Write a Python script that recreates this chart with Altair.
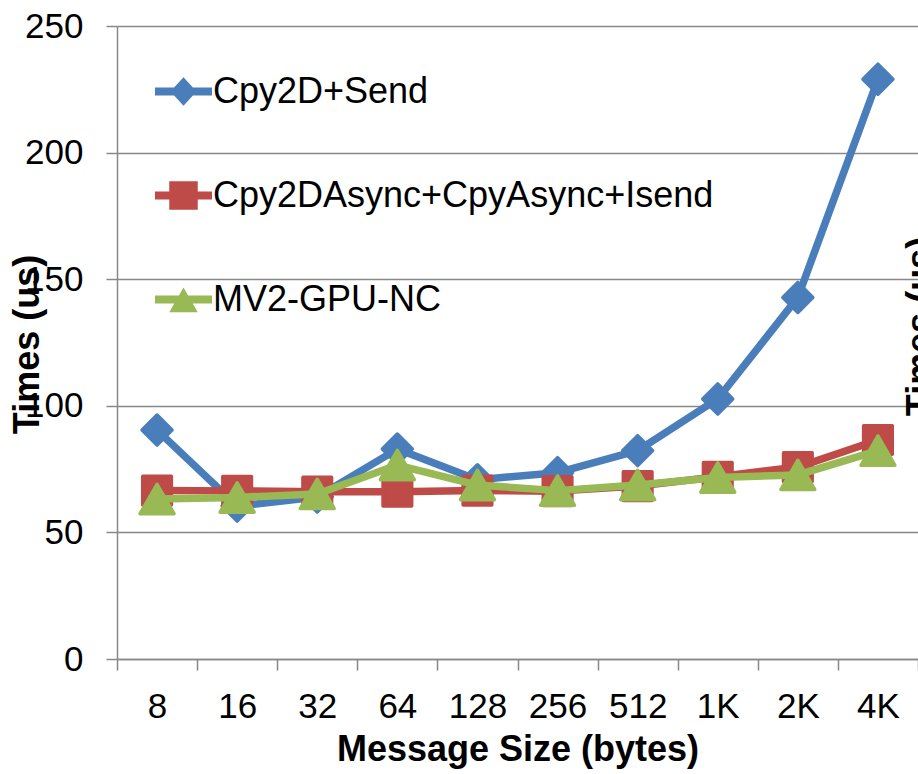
import altair as alt
import pandas as pd

# Message sizes on the x axis
sizes = ["8", "16", "32", "64", "128", "256", "512", "1K", "2K", "4K"]

# Latency (us) of each strategy per message size
series_names = ["Cpy2D+Send", "Cpy2DAsync+CpyAsync+Isend", "MV2-GPU-NC"]
cpy2d_send = [90.4, 60.4, 64.0, 82.9, 70.8, 73.6, 82.3, 102.7, 142.8, 229.0]
cpy2d_async_isend = [66.5, 66.4, 66.1, 66.1, 66.5, 66.3, 68.3, 72.0, 75.8, 86.5]
mv2_gpu_nc = [63.2, 63.8, 65.2, 76.6, 68.7, 66.5, 68.7, 71.7, 72.7, 82.3]

series_colors = ["#4A7EBB", "#BE4B48", "#98B954"]
marker_shapes = ["diamond", "square", "triangle-up"]
marker_sizes = [900, 820, 1150]

# Legend glyphs: a short bar with the series marker on top (fill only)
legend_glyphs = [
    "M-1,-0.14H1V0.14H-1Z M0,-0.5L0.46,0L0,0.5L-0.46,0Z",
    "M-1,-0.14H1V0.14H-1Z M-0.5,-0.5H0.5V0.5H-0.5Z",
    "M-1,-0.14H1V0.14H-1Z M0,-0.42L0.5,0.45L-0.5,0.45Z",
]

rows = []
for name, values in zip(series_names, [cpy2d_send, cpy2d_async_isend, mv2_gpu_nc]):
    for idx, (s, v) in enumerate(zip(sizes, values)):
        rows.append({"size": s, "idx": idx, "time": v, "series": name})
df = pd.DataFrame(rows)

FONT = "Liberation Sans"
GRAY = "#888888"

x_scale = alt.Scale(type="band", domain=sizes, paddingInner=0, paddingOuter=0)
y_scale = alt.Scale(domain=[0, 250], nice=False)

x_axis = alt.Axis(
    title="Message Size (bytes)", labelAngle=0, tickBand="extent", tickSize=11,
    labelPadding=19, grid=False, titleY=101, titleBaseline="alphabetic",
)
y_axis = alt.Axis(
    title="Times (us)", values=[0, 50, 100, 150, 200, 250], tickSize=11,
    labelPadding=23, grid=True, titleX=-79, titleY=318, titleAngle=270,
    titleBaseline="alphabetic", titleAlign="center",
)

base = alt.Chart(df)
x_enc = alt.X("size:O", scale=x_scale, axis=x_axis)

# Each series draws its line and then its markers, so later series sit on top
layers = []
for i, (name, color, shape, msize) in enumerate(
    zip(series_names, series_colors, marker_shapes, marker_sizes)
):
    first = i == 0
    sel = base.transform_filter(alt.datum.series == name)
    line = sel.mark_line(
        color=color, strokeWidth=7.5, strokeJoin="round", strokeCap="round"
    ).encode(
        x=x_enc,
        y=alt.Y("time:Q", scale=y_scale, axis=y_axis if first else None),
        order=alt.Order("idx:Q"),
    )
    pts = sel.mark_point(
        shape=shape, filled=True, color=color, stroke=color, strokeWidth=3.5,
        strokeJoin="round", size=msize, opacity=1,
    ).encode(
        x=x_enc,
        y=alt.Y("time:Q", scale=y_scale, axis=None),
    )
    layers += [line, pts]

legend = alt.Legend(
    orient="none", legendX=38, legendY=37, title=None, padding=0,
    labelFont=FONT, labelFontSize=36, labelColor="black", labelLimit=900,
    labelOffset=1, symbolSize=3249, symbolStrokeWidth=0, symbolOpacity=1,
    rowPadding=57,
)

# Legend entries plus the secondary y-axis title on the right
legend_layer = base.transform_filter("false").mark_point(
    filled=True, size=3249, opacity=1
).encode(
    x=x_enc,
    y=alt.Y(
        "time:Q", scale=y_scale,
        axis=alt.Axis(
            orient="right", title="Times (us)", labels=False, ticks=False,
            domain=False, grid=False, titleAngle=270, titleX=13, titleY=300,
            titleBaseline="alphabetic", titleAlign="center",
        ),
    ),
    color=alt.Color("series:N", scale=alt.Scale(domain=series_names, range=series_colors), legend=legend),
    shape=alt.Shape("series:N", scale=alt.Scale(domain=series_names, range=legend_glyphs), legend=legend),
)

chart = (
    alt.layer(*layers, legend_layer)
    .resolve_axis(y="independent")
    .properties(
        width=801, height=633,
        padding={"left": 117, "top": 26, "right": 0, "bottom": 115},
        autosize=alt.AutoSizeParams(type="none"),
        background="white",
    )
    .configure_view(stroke=None)
    .configure_axis(
        labelFont=FONT, labelFontSize=35, labelColor="black",
        titleFont=FONT, titleFontSize=36, titleFontWeight="bold", titleColor="black",
        domainColor=GRAY, domainWidth=1.5, tickColor=GRAY, tickWidth=1.5,
        gridColor=GRAY, gridWidth=1.5,
    )
)

chart.save("out.html", embed_options={"renderer": "svg", "actions": False})
